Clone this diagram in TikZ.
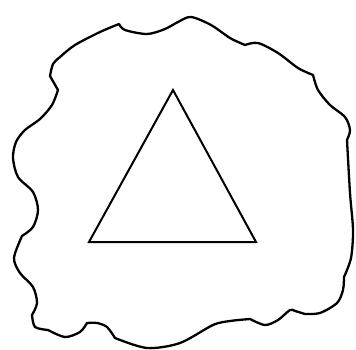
\documentclass[tikz,border=0pt]{standalone}
\begin{document}
\begin{tikzpicture}[x=1pt,y=-1pt,
  blob/.style={line width=2.3pt,line join=round},
  tri/.style={line width=2pt,line join=miter}]
\useasboundingbox (0,0) rectangle (356,350);
\draw[blob] plot[smooth] coordinates {(119,24)(125,30)(147,34)(165,29)(178,22)(191,17)(211,25)(230,38)(245,45)}
 -- plot[smooth] coordinates {(245,45)(258,43)(278,53)(298,68)(313,75)}
 -- plot[smooth] coordinates {(313,75)(318,90)(330,105)(345,117)(350,130)(347,140)}
 -- plot[smooth] coordinates {(347,140)(350,193)(353,230)(351,258)(344,277)}
 -- plot[smooth] coordinates {(344,277)(343,290)(337,303)(320,313)(305,314)}
 -- plot[smooth] coordinates {(305,314)(295,311)(290,310)(278,320)(265,325)(250,319)}
 -- plot[smooth] coordinates {(250,319)(230,321)(213,325)(180,343)(147,348)(115,338)}
 -- plot[smooth] coordinates {(115,338)(107,327)(97,323)(87,323)}
 -- plot[smooth] coordinates {(87,323)(80,332)(65,337)(48,330)}
 -- plot[smooth] coordinates {(48,330)(35,327)(32,315)}
 -- plot[smooth] coordinates {(32,315)(37,303)(33,287)(20,273)(14,258)(22,236)}
 -- plot[smooth] coordinates {(22,236)(33,227)(38,210)(33,192)(18,177)(13,158)(16,142)(25,130)(40,119)(52,105)(58,90)}
 -- plot[smooth] coordinates {(58,90)(50,76)}
 -- plot[smooth] coordinates {(50,76)(53,64)(60,57)(75,45)(100,32)(119,24)} -- cycle;
\coordinate (A) at (173,90);
\coordinate (B) at (89,242);
\coordinate (C) at (256,242);
\draw[tri] (A) -- (B) -- (C) -- cycle;
\end{tikzpicture}
\end{document}
